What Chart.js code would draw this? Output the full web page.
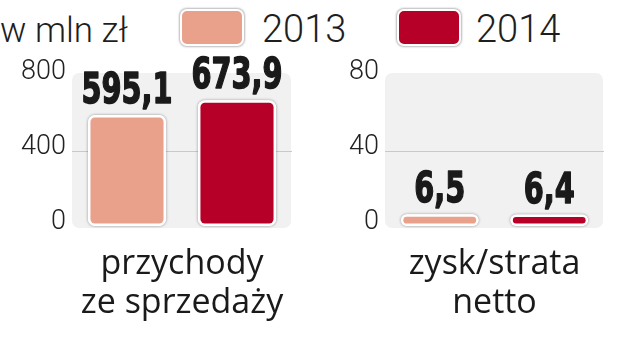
<!DOCTYPE html>
<html lang="pl">
<head>
  <meta charset="UTF-8">
  <title>Przychody i zysk netto</title>
  <script src="https://cdn.jsdelivr.net/npm/chart.js"></script>
  <style>
    body {
      margin: 0;
      background: #fff;
      width: 626px;
      height: 345px;
      overflow: hidden;
      position: relative;
      font-family: Roboto, sans-serif;
      color: #1e1e1e;
    }

    .unit {
      position: absolute;
      left: 0;
      top: 13px;
      font-size: 35px;
      font-weight: 300;
      line-height: 35px;
      white-space: nowrap;
    }

    .legend-item {
      position: absolute;
      top: 9px;
      height: 40px;
    }

    .swatch {
      position: absolute;
      left: 0;
      top: 0;
      width: 60px;
      height: 33px;
      border: 2.5px solid #fff;
      border-radius: 7px;
      box-shadow: 0 0 2px 1px rgba(0,0,0,0.28);
    }

    .legend-item span {
      position: absolute;
      top: 1px;
      font-size: 38px;
      font-weight: 300;
      line-height: 38px;
      white-space: nowrap;
    }

    .panel {
      position: absolute;
      top: 50px;
      width: 313px;
      height: 295px;
    }
  </style>
</head>
<body>

  <div class="unit">w mln zł</div>
  <div id="legend"></div>

  <div class="panel" style="left:0"><canvas id="revenueChart"></canvas></div>
  <div class="panel" style="left:313px"><canvas id="profitChart"></canvas></div>

  <script>
    const years = ['2013', '2014'];
    const yearColors = ['#e9a18c', '#b70027'];

    const revenueLabel = ['przychody', 'ze sprzedaży'];
    const revenue = [595.1, 673.9];
    const revenueTicks = [0, 400, 800];

    const profitLabel = ['zysk/strata', 'netto'];
    const profit = [6.5, 6.4];
    const profitTicks = [0, 40, 80];

    // legend across the top
    const legendLeft = [180, 397];
    const legendBox = document.getElementById('legend');
    years.forEach((y, i) => {
      const item = document.createElement('div');
      item.className = 'legend-item';
      item.style.left = legendLeft[i] + 'px';
      item.innerHTML = `<div class="swatch" style="background:${yearColors[i]}"></div><span style="left:${i ? 79 : 82}px">${y}</span>`;
      legendBox.appendChild(item);
    });

    const plotBg = {
      id: 'plotBg',
      beforeDraw(chart) {
        const { ctx, chartArea: a } = chart;
        ctx.save();
        ctx.fillStyle = '#f1f1f1';
        ctx.beginPath();
        ctx.roundRect(a.left, a.top - 3.5, a.width - 1, a.height + 5, 7);
        ctx.fill();
        ctx.restore();
      }
    };

    // soft grey halo behind each bar
    const barShadow = {
      id: 'barShadow',
      beforeDatasetsDraw(chart) {
        const ctx = chart.ctx;
        ctx.save();
        ctx.shadowColor = 'rgba(0,0,0,0.4)';
        ctx.shadowBlur = 3;
        ctx.fillStyle = '#fff';
        chart.data.datasets.forEach((ds, i) => {
          chart.getDatasetMeta(i).data.forEach(bar => {
            const { x, y, base, width } = bar.getProps(['x', 'y', 'base', 'width'], true);
            const h = base - y;
            ctx.beginPath();
            ctx.roundRect(x - width / 2, y, width, h, Math.min(7, h / 2));
            ctx.fill();
          });
        });
        ctx.restore();
      }
    };

    const valueLabels = {
      id: 'valueLabels',
      afterDraw(chart) {
        const ctx = chart.ctx;
        ctx.save();
        ctx.font = 'bold 43px "DejaVu Sans"';
        ctx.textAlign = 'center';
        ctx.textBaseline = 'alphabetic';
        ctx.fillStyle = '#1a1a1a';
        ctx.strokeStyle = '#1a1a1a';
        ctx.lineWidth = 1.6;
        ctx.lineJoin = 'round';
        chart.data.datasets.forEach((ds, i) => {
          chart.getDatasetMeta(i).data.forEach((bar, j) => {
            const txt = ds.data[j].toFixed(1).replace('.', ',');
            ctx.save();
            ctx.translate(bar.x, bar.y - 12);
            ctx.scale(0.67, 1);
            ctx.fillText(txt, 0, 0);
            ctx.strokeText(txt, 0, 0);
            ctx.restore();
          });
        });
        ctx.restore();
      }
    };

    function makePanel(id, label, values, ticks, rightPad) {
      const ctx = document.getElementById(id).getContext('2d');
      return new Chart(ctx, {
        type: 'bar',
        data: {
          labels: [label],
          datasets: years.map((y, i) => ({
            label: y,
            data: [values[i]],
            backgroundColor: yearColors[i],
            borderColor: '#fff',
            borderWidth: 2.5,
            borderRadius: 7,
            borderSkipped: false,
            categoryPercentage: 1.0,
            barPercentage: 0.71
          }))
        },
        options: {
          responsive: true,
          maintainAspectRatio: false,
          animation: false,
          layout: { padding: { top: 26.5, right: rightPad, left: 0, bottom: 0 } },
          plugins: {
            legend: { display: false },
            tooltip: { enabled: false }
          },
          scales: {
            x: {
              grid: { display: false },
              border: { display: false },
              ticks: {
                color: '#1a1a1a',
                font: { family: '"Open Sans"', size: 34, lineHeight: 1.13 },
                padding: 11,
                maxRotation: 0
              },
              afterFit: s => { s.height = 118.5; }
            },
            y: {
              min: 0,
              max: ticks[ticks.length - 1],
              afterBuildTicks: s => { s.ticks = ticks.map(v => ({ value: v })); },
              border: { display: false },
              grid: {
                drawTicks: false,
                color: c => (c.tick && c.tick.value === ticks[1]) ? '#c9c9c9' : 'rgba(0,0,0,0)'
              },
              ticks: {
                color: '#222',
                font: { family: 'Roboto', size: 27, weight: 300 },
                padding: 6,
                labelOffset: -4
              },
              afterFit: s => { s.width = 72; }
            }
          }
        },
        plugins: [plotBg, barShadow, valueLabels]
      });
    }

    makePanel('revenueChart', revenueLabel, revenue, revenueTicks, 21);
    makePanel('profitChart', profitLabel, profit, profitTicks, 22);
  </script>

</body>
</html>
